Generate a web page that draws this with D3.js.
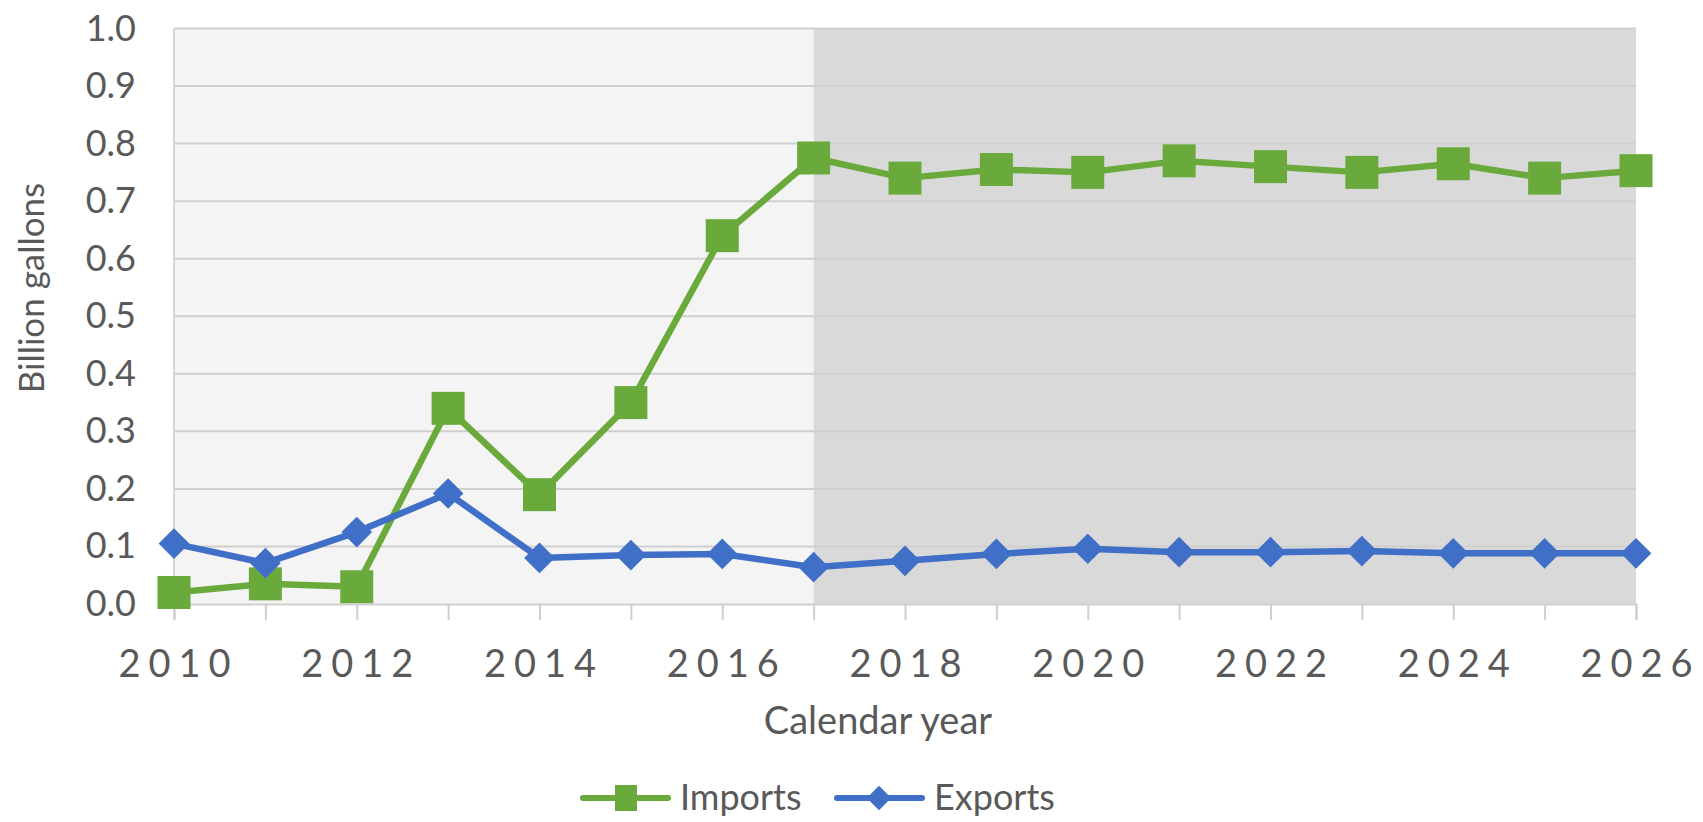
<!DOCTYPE html>
<html>
<head>
<meta charset="utf-8">
<script src="https://cdn.jsdelivr.net/npm/d3@7"></script>
<style>
  body { margin: 0; background: #fff; }
  text { font-family: Lato, "Open Sans", sans-serif; fill: #595959; }
</style>
</head>
<body>
<div id="chart"></div>
<script>
// data
var years = [2010, 2011, 2012, 2013, 2014, 2015, 2016, 2017, 2018, 2019, 2020, 2021, 2022, 2023, 2024, 2025, 2026];
var imports = [0.02, 0.035, 0.03, 0.34, 0.19, 0.35, 0.64, 0.775, 0.74, 0.755, 0.75, 0.77, 0.76, 0.75, 0.765, 0.74, 0.753];
var exports = [0.105, 0.071, 0.125, 0.192, 0.08, 0.085, 0.087, 0.064, 0.075, 0.087, 0.096, 0.09, 0.09, 0.092, 0.088, 0.088, 0.088];
var yTicks = [0, 0.1, 0.2, 0.3, 0.4, 0.5, 0.6, 0.7, 0.8, 0.9, 1.0];
var xLabels = [2010, 2012, 2014, 2016, 2018, 2020, 2022, 2024, 2026];
var projectionStart = 2017;

var svgWidth = 1703;
var svgHeight = 822;
var margin = {top: 28.5, right: 67, bottom: 218, left: 174};
var width = svgWidth - margin.left - margin.right;
var height = svgHeight - margin.top - margin.bottom;

var green = "#6aaa3c";
var blue = "#3f6fc6";

var svg = d3.select("#chart").append("svg")
    .attr("width", svgWidth)
    .attr("height", svgHeight);
var chart = svg.append("g")
    .attr("transform", "translate(" + margin.left + "," + margin.top + ")");

var x = d3.scaleLinear().domain([2010, 2026]).range([0, width]);
var y = d3.scaleLinear().domain([0, 1]).range([height, 0]);

// background: history vs projection
chart.append("rect")
    .attr("x", 0).attr("y", 0)
    .attr("width", x(projectionStart))
    .attr("height", height)
    .attr("fill", "#f4f4f4");
chart.append("rect")
    .attr("x", x(projectionStart)).attr("y", 0)
    .attr("width", width - x(projectionStart))
    .attr("height", height)
    .attr("fill", "#d9d9d9");

// gridlines
chart.append("g").selectAll("line")
    .data(yTicks.slice(1))
    .enter().append("line")
    .attr("x1", 0).attr("x2", width)
    .attr("y1", function(d) { return y(d); })
    .attr("y2", function(d) { return y(d); })
    .attr("stroke", "#cfcfcf")
    .attr("stroke-width", 2);

// left axis line
chart.append("line")
    .attr("x1", 0).attr("x2", 0)
    .attr("y1", 0).attr("y2", height)
    .attr("stroke", "#d6d6d6").attr("stroke-width", 2);

// y axis labels
var leftAxis = d3.axisLeft(y).tickValues(yTicks).tickSize(0).tickPadding(38)
    .tickFormat(d3.format(".1f"));
var gy = chart.append("g").call(leftAxis);
gy.select(".domain").remove();
gy.selectAll("text").style("font-size", "36px").attr("fill", "#595959");

// x axis with year ticks
var bottomAxis = d3.axisBottom(x).tickValues(years).tickSize(16).tickPadding(30)
    .tickFormat(function(d) { return xLabels.indexOf(d) >= 0 ? d : ""; });
var gx = chart.append("g")
    .attr("transform", "translate(0," + height + ")")
    .call(bottomAxis);
gx.select(".domain").attr("stroke", "#d0d0d0").attr("stroke-width", 2);
gx.selectAll(".tick line").attr("stroke", "#cfcfcf").attr("stroke-width", 2);
gx.selectAll("text")
    .style("font-size", "38px")
    .style("letter-spacing", "8px")
    .attr("dx", "4px")
    .attr("fill", "#595959");

// lines
var line = d3.line()
    .x(function(d, i) { return x(years[i]); })
    .y(function(d) { return y(d); });

chart.append("path").datum(imports)
    .attr("d", line).attr("fill", "none")
    .attr("stroke", green).attr("stroke-width", 6.5).attr("stroke-linejoin", "round");
chart.append("path").datum(exports)
    .attr("d", line).attr("fill", "none")
    .attr("stroke", blue).attr("stroke-width", 6.5).attr("stroke-linejoin", "round");

// markers
var sq = 33;
chart.selectAll(".imp").data(imports).enter().append("rect")
    .attr("class", "imp")
    .attr("x", function(d, i) { return x(years[i]) - sq / 2; })
    .attr("y", function(d) { return y(d) - sq / 2; })
    .attr("width", sq).attr("height", sq)
    .attr("fill", green);

var diamond = d3.symbol().type(d3.symbolDiamond2).size(600);
chart.selectAll(".exp").data(exports).enter().append("path")
    .attr("class", "exp")
    .attr("transform", function(d, i) { return "translate(" + x(years[i]) + "," + y(d) + ")"; })
    .attr("d", diamond)
    .attr("fill", blue);

// axis titles
svg.append("text")
    .attr("transform", "translate(44,288) rotate(-90)")
    .attr("text-anchor", "middle")
    .style("font-size", "35px")
    .text("Billion gallons");

svg.append("text")
    .attr("x", 878).attr("y", 734)
    .attr("text-anchor", "middle")
    .style("font-size", "38px")
    .text("Calendar year");

// legend
var legend = [
  {name: "Imports", color: green, lx: 583, kind: "square"},
  {name: "Exports", color: blue, lx: 837, kind: "diamond"}
];
var lg = svg.selectAll(".legend").data(legend).enter().append("g")
    .attr("class", "legend")
    .attr("transform", function(d) { return "translate(" + d.lx + ",798)"; });
lg.append("line")
    .attr("x1", 0).attr("x2", 85).attr("y1", 0).attr("y2", 0)
    .attr("stroke", function(d) { return d.color; })
    .attr("stroke-width", 6).attr("stroke-linecap", "round");
lg.filter(function(d) { return d.kind === "square"; }).append("rect")
    .attr("x", 32).attr("y", -13).attr("width", 22).attr("height", 26)
    .attr("fill", function(d) { return d.color; });
lg.filter(function(d) { return d.kind === "diamond"; }).append("path")
    .attr("transform", "translate(42,0)")
    .attr("d", d3.symbol().type(d3.symbolDiamond2).size(380))
    .attr("fill", function(d) { return d.color; });
lg.append("text")
    .attr("x", 97).attr("y", 12)
    .style("font-size", "36px")
    .text(function(d) { return d.name; });
</script>
</body>
</html>
